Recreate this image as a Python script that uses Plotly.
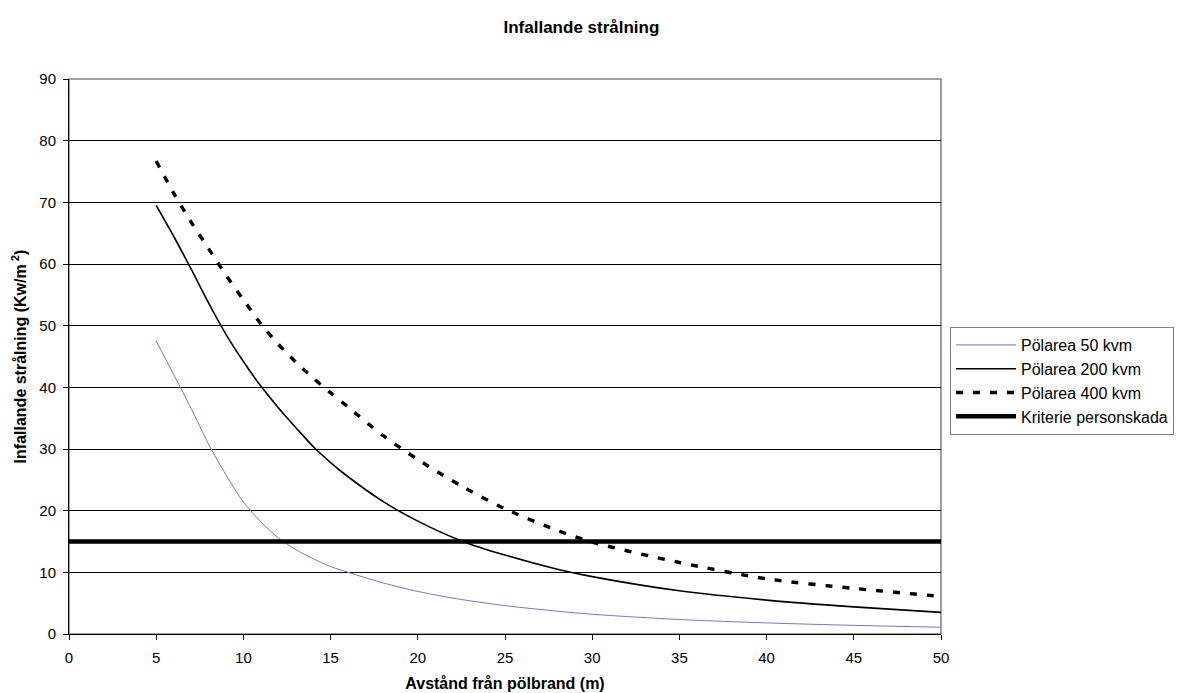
import plotly.graph_objects as go

x_dist = [5, 6, 7, 8, 9, 10, 11, 12, 13, 14, 15, 16, 18, 20, 22.5, 25, 28, 30, 35, 40, 45, 50]
area_50 = [47.5, 42.1, 36.6, 30.8, 25.8, 21.4, 18.2, 15.6, 13.7, 12.2, 10.95, 10.0, 8.3, 6.9, 5.6, 4.6, 3.7, 3.2, 2.35, 1.8, 1.4, 1.1]
area_200 = [69.5, 64.5, 59.2, 53.7, 48.6, 44.2, 40.2, 36.7, 33.5, 30.4, 27.8, 25.5, 21.5, 18.3, 15.1, 12.8, 10.5, 9.3, 7.0, 5.5, 4.4, 3.5]
area_400 = [76.7, 71.5, 66.8, 62.5, 58.2, 54.2, 50.3, 47.0, 44.1, 41.5, 39.1, 36.8, 32.2, 28.3, 24.0, 20.3, 16.8, 14.9, 11.6, 8.95, 7.4, 6.1]
crit_x = [0, 5, 10, 15, 20, 25, 30, 35, 40, 45, 50]
crit_y = [15] * len(crit_x)

names = ["Pölarea 50 kvm", "Pölarea 200 kvm", "Pölarea 400 kvm", "Kriterie personskada"]
x_ticks = list(range(0, 51, 5))
y_ticks = list(range(0, 91, 10))

FONT = "Liberation Sans, Arial, sans-serif"

fig = go.Figure()
fig.add_trace(go.Scatter(x=x_dist, y=area_50, mode="lines", name=names[0],
                         line=dict(color="#7474d4", width=1, shape="spline", smoothing=0.8)))
fig.add_trace(go.Scatter(x=x_dist, y=area_200, mode="lines", name=names[1],
                         line=dict(color="#000000", width=1.6, shape="spline", smoothing=0.8)))
fig.add_trace(go.Scatter(x=x_dist, y=area_400, mode="lines", name=names[2],
                         line=dict(color="#000000", width=3.4, dash="7px,10px", shape="spline", smoothing=0.8)))
fig.add_trace(go.Scatter(x=crit_x, y=crit_y, mode="lines", name=names[3],
                         line=dict(color="#000000", width=4.5)))

fig.update_layout(
    width=1177, height=693,
    margin=dict(l=69, r=236, t=79, b=59, autoexpand=False),
    paper_bgcolor="white", plot_bgcolor="white",
    font=dict(family=FONT, size=15, color="black"),
    title=dict(text="<b>Infallande strålning</b>", x=0.494, xanchor="center",
               y=1 - 27 / 693, yanchor="middle", font=dict(size=17, family=FONT)),
    legend=dict(xref="container", yref="container", x=950 / 1177, xanchor="left",
                y=1 - 381 / 693, yanchor="middle",
                bgcolor="white", bordercolor="#808080", borderwidth=1,
                font=dict(size=16, family=FONT), itemwidth=60,
                tracegroupgap=0),
    showlegend=True,
)
fig.update_xaxes(range=[0, 50], tickvals=x_ticks, ticks="outside", ticklen=5,
                 tickcolor="black", showline=True, linecolor="black", linewidth=1,
                 mirror=False, showgrid=False, zeroline=False, ticklabelstandoff=5,
                 tickfont=dict(size=15, family=FONT),
                 title=dict(text="<b>Avstånd från pölbrand (m)</b>", font=dict(size=16, family=FONT), standoff=12))
fig.update_yaxes(range=[0, 90], tickvals=y_ticks, ticks="outside", ticklen=5,
                 tickcolor="black", showline=True, linecolor="black", linewidth=1,
                 showgrid=True, gridcolor="#000000", gridwidth=1, zeroline=False, ticklabelstandoff=4,
                 tickfont=dict(size=15, family=FONT),
                 title=dict(text="<b>Infallande strålning (Kw/m<sup> 2</sup>)</b>", font=dict(size=16, family=FONT), standoff=8))

# gray plot-area border on right and top
fig.add_shape(type="rect", xref="paper", yref="paper", x0=0, y0=0, x1=1, y1=1,
              line=dict(color="#808080", width=1.5), layer="below")

fig.write_html("out.html", config={"displayModeBar": False},
               post_script="document.body.style.margin='0';")
